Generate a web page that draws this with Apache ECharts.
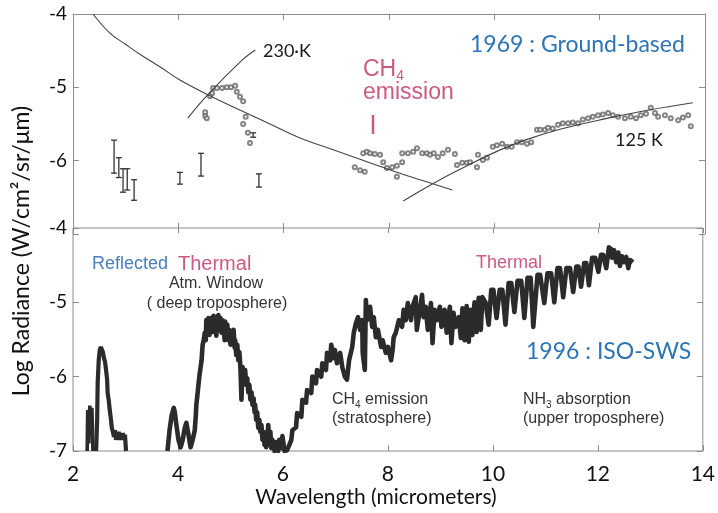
<!DOCTYPE html>
<html><head><meta charset="utf-8">
<script src="https://cdn.jsdelivr.net/npm/echarts@6/dist/echarts.min.js"></script>
<style>html,body{margin:0;padding:0;background:#fff}#c{width:718px;height:513px}</style>
</head><body><div id="c"></div>
<script>
// ---- data ----
const xTicks = [2, 4, 6, 8, 10, 12, 14];
const yTicks = [-4, -5, -6, -7];

// 1969 ground-based panel
const curveHot = [[2.38,-4.00],[2.70,-4.26],[2.99,-4.41],[3.27,-4.55],[3.65,-4.72],[4.03,-4.90],[4.56,-5.10],[5.17,-5.31],[5.74,-5.50],[6.31,-5.69],[6.94,-5.85],[7.45,-5.98],[8.04,-6.13],[8.59,-6.26],[9.20,-6.40]];
const curve230K = [[4.18,-5.42],[4.56,-5.10],[5.21,-4.63],[5.46,-4.49]];
const curve125K = [[8.27,-6.55],[9.31,-6.13],[10.58,-5.72],[12.16,-5.42],[13.77,-5.21]];
const groundPoints = [
 [4.66,-5.01],[4.73,-5.01],[4.83,-5.01],[4.92,-5.00],[5.00,-5.00],[5.08,-4.98],[5.11,-5.06],[5.17,-5.13],[5.23,-5.19],[4.64,-5.08],[4.60,-5.12],[4.51,-5.34],[4.51,-5.39],[4.54,-5.42],[5.28,-5.40],[5.23,-5.50],[5.32,-5.62],[5.36,-5.76],
 [7.51,-5.90],[7.58,-5.88],[7.64,-5.90],[7.73,-5.91],[7.83,-5.92],[7.35,-6.09],[7.45,-6.13],[7.54,-6.15],[7.89,-6.02],[7.96,-6.10],[8.06,-6.09],[8.15,-6.07],[8.15,-6.22],[8.25,-6.02],[8.25,-5.90],[8.36,-5.90],[8.46,-5.88],[8.53,-5.83],[8.63,-5.90],[8.72,-5.90],[8.78,-5.92],[8.85,-5.90],[8.93,-5.95],[9.02,-5.90],[9.12,-5.85],[9.25,-5.91],[9.29,-6.06],[9.39,-6.03],[9.48,-6.03],[9.54,-6.02],[9.67,-6.09],[9.69,-5.92],[9.78,-5.99],[9.86,-5.96],[9.97,-5.81],[10.05,-5.79],[10.15,-5.77],[10.24,-5.81],[10.33,-5.81],[10.43,-5.75],[10.52,-5.75],[10.62,-5.77],[10.70,-5.75],[10.81,-5.58],[10.87,-5.58],[10.96,-5.58],[11.02,-5.55],[11.11,-5.56],[11.21,-5.51],[11.30,-5.49],[11.40,-5.49],[11.49,-5.48],[11.59,-5.49],[11.68,-5.44],[11.78,-5.42],[11.87,-5.40],[11.97,-5.38],[12.06,-5.37],[12.16,-5.35],[12.25,-5.38],[12.35,-5.40],[12.48,-5.42],[12.59,-5.40],[12.69,-5.42],[12.78,-5.38],[12.88,-5.36],[12.97,-5.28],[13.05,-5.35],[13.11,-5.40],[13.24,-5.38],[13.35,-5.42],[13.49,-5.45],[13.58,-5.41],[13.68,-5.38],[13.73,-5.53]
];
// [wavelength, value, low, high]
const groundErrorBars = [[2.78,-5.90,-6.17,-5.72],[2.87,-6.06,-6.23,-5.96],[2.95,-6.25,-6.43,-6.11],[3.03,-6.24,-6.40,-6.11],[3.16,-6.40,-6.54,-6.26],[4.03,-6.24,-6.32,-6.16],[4.43,-6.03,-6.21,-5.90],[5.53,-6.28,-6.36,-6.18],[5.42,-5.65,-5.68,-5.62]];

// 1996 ISO-SWS panel
const isoSpike = [[2.27,-7.00],[2.28,-6.45],[2.30,-6.90],[2.32,-6.39],[2.34,-6.60],[2.36,-6.42],[2.38,-7.00]];
const isoReflected = [[2.44,-7.00],[2.46,-6.58],[2.47,-6.09],[2.49,-5.78],[2.51,-5.64],[2.53,-5.60],[2.55,-5.61],[2.57,-5.67],[2.59,-5.75],[2.61,-5.80],[2.63,-5.91],[2.65,-6.04],[2.66,-6.22],[2.68,-6.31],[2.70,-6.45],[2.72,-6.56],[2.74,-6.69],[2.76,-6.74],[2.78,-6.81],[2.80,-6.72],[2.82,-6.85],[2.84,-6.76],[2.85,-6.83],[2.87,-6.74],[2.89,-6.85],[2.91,-6.77],[2.93,-6.83],[2.95,-6.76],[2.97,-6.85],[2.99,-6.78],[3.01,-7.00]];
const isoThermal = [
 [3.80,-7.00],[3.84,-6.72],[3.88,-6.52],[3.92,-6.42],[3.94,-6.48],[3.97,-6.65],[4.01,-6.85],[4.05,-6.95],[4.09,-6.85],[4.13,-6.69],[4.16,-6.62],[4.20,-6.78],[4.24,-6.95],[4.28,-6.85],[4.32,-6.72],[4.34,-6.52],[4.35,-6.38],[4.37,-6.25],[4.39,-6.11],[4.41,-5.98],[4.43,-5.88],[4.45,-5.78],[4.47,-5.57],[4.49,-5.51],[4.51,-5.41],[4.53,-5.51],[4.54,-5.24],[4.56,-5.37],[4.58,-5.21],[4.60,-5.44],[4.62,-5.26],[4.64,-5.21],[4.66,-5.40],[4.68,-5.18],[4.70,-5.30],[4.72,-5.21],[4.73,-5.45],[4.75,-5.26],[4.77,-5.17],[4.79,-5.37],[4.81,-5.21],[4.83,-5.41],[4.85,-5.24],[4.87,-5.35],[4.89,-5.51],[4.90,-5.26],[4.92,-5.45],[4.94,-5.30],[4.96,-5.51],[4.98,-5.37],[5.00,-5.57],[5.02,-5.41],[5.04,-5.53],[5.06,-5.37],[5.08,-5.61],[5.09,-5.51],[5.11,-5.71],[5.13,-5.57],[5.15,-5.78],[5.17,-5.67],[5.19,-5.88],[5.21,-6.31],[5.23,-5.87],[5.25,-5.94],[5.27,-6.04],[5.28,-5.91],[5.30,-6.11],[5.32,-6.02],[5.34,-6.21],[5.36,-6.11],[5.38,-6.31],[5.40,-6.21],[5.42,-6.38],[5.44,-6.29],[5.46,-6.48],[5.47,-6.38],[5.49,-6.58],[5.51,-6.48],[5.53,-6.69],[5.55,-6.58],[5.57,-6.74],[5.59,-6.65],[5.61,-6.85],[5.63,-6.74],[5.65,-6.92],[5.66,-6.81],[5.68,-6.95],[5.70,-6.85],[5.72,-6.65],[5.74,-6.92],[5.76,-6.74],[5.78,-6.96],[5.80,-6.85],[5.84,-7.00],[5.87,-6.88],[5.91,-7.00],[5.93,-6.85],[5.97,-6.96],[5.99,-6.80],[6.03,-7.00],[6.06,-7.00],
 [6.08,-6.99],[6.16,-6.85],[6.18,-6.72],[6.25,-6.68],[6.27,-6.49],[6.35,-6.54],[6.37,-6.31],[6.44,-6.35],[6.46,-6.18],[6.54,-6.22],[6.56,-6.00],[6.63,-6.09],[6.65,-5.91],[6.73,-6.00],[6.75,-5.82],[6.82,-5.91],[6.84,-5.68],[6.90,-5.78],[6.92,-5.57],[6.96,-5.75],[6.99,-5.64],[7.03,-5.82],[7.09,-5.68],[7.13,-5.87],[7.18,-6.00],[7.22,-6.04],[7.26,-5.78],[7.32,-5.60],[7.35,-5.41],[7.39,-5.28],[7.43,-5.20],[7.47,-5.37],[7.51,-5.24],[7.52,-5.68],[7.56,-5.91],[7.58,-4.97],[7.60,-5.24],[7.66,-5.06],[7.70,-5.33],[7.73,-5.20],[7.77,-5.47],[7.81,-5.37],[7.87,-5.60],[7.90,-5.51],[7.96,-5.68],[8.00,-5.60],[8.06,-5.78],[8.09,-5.64],[8.11,-5.47],[8.15,-5.41],[8.21,-5.24],[8.27,-5.33],[8.30,-5.10],[8.34,-5.24],[8.38,-5.01],[8.44,-5.24],[8.47,-5.06],[8.53,-4.93],[8.55,-5.37],[8.61,-5.10],[8.65,-4.90],[8.68,-5.20],[8.72,-5.06],[8.76,-5.37],[8.82,-5.01],[8.85,-5.55],[8.89,-5.10],[8.93,-5.24],[8.99,-5.06],[9.02,-5.33],[9.08,-5.10],[9.12,-5.41],[9.18,-5.06],[9.21,-5.55],[9.25,-5.14],[9.29,-5.33],[9.35,-5.20],[9.39,-5.48],[9.42,-5.08],[9.46,-5.51],[9.50,-5.05],[9.54,-5.53],[9.58,-5.10],[9.61,-5.44],[9.65,-5.00],[9.69,-5.40],[9.73,-4.94],[9.77,-5.37],[9.80,-4.93],
 [9.86,-5.00],[9.92,-5.30],[9.97,-4.83],[10.01,-4.83],[10.07,-5.21],[10.13,-4.83],[10.18,-4.83],[10.24,-5.30],[10.30,-4.74],[10.35,-4.74],[10.41,-5.13],[10.47,-4.71],[10.54,-4.71],[10.60,-5.21],[10.66,-4.67],[10.72,-4.67],[10.77,-5.33],[10.85,-4.63],[10.90,-4.63],[10.98,-5.01],[11.04,-4.61],[11.11,-4.61],[11.17,-5.00],[11.23,-4.54],[11.28,-4.54],[11.34,-4.93],[11.40,-4.54],[11.47,-4.54],[11.53,-4.86],[11.59,-4.52],[11.63,-4.52],[11.68,-4.79],[11.74,-4.47],[11.78,-4.47],[11.83,-4.77],[11.89,-4.40],[11.95,-4.40],[12.01,-4.59],[12.06,-4.36],[12.10,-4.36],[12.16,-4.54],[12.21,-4.26],[12.25,-4.28],[12.27,-4.40],[12.31,-4.30],[12.35,-4.46],[12.39,-4.33],[12.42,-4.51],[12.46,-4.38],[12.50,-4.46],[12.54,-4.39],[12.58,-4.54],[12.61,-4.43],[12.67,-4.46]
];

// ---- chart ----
const FRAME = '#8c8c8c';
const INK = '#2b2b2b';
const PINK = '#cc5a7f';
const BLUE = '#2e75b6';
const chart = echarts.init(document.getElementById('c'), null, {renderer: 'canvas'});

function xAx(grid, pos, opts) {
  return Object.assign({
    type: 'value', gridIndex: grid, position: pos, min: xTicks[0], max: xTicks[xTicks.length - 1], interval: 2,
    axisLine: {show: false}, splitLine: {show: false},
    axisTick: {show: true, inside: true, length: 6, lineStyle: {color: FRAME}},
    axisLabel: {show: false}
  }, opts || {});
}
function yAx(grid, pos, opts) {
  return Object.assign({
    type: 'value', gridIndex: grid, position: pos, min: yTicks[yTicks.length - 1], max: yTicks[0], interval: 1,
    axisLine: {show: false}, splitLine: {show: false},
    axisTick: {show: true, inside: true, length: 6, lineStyle: {color: FRAME}},
    axisLabel: {show: false}
  }, opts || {});
}
const tickFont = {fontFamily: 'Lato', color: '#111'};

const option = {
  animation: false,
  backgroundColor: '#fff',
  grid: [
    {left: 73, top: 14, width: 632, height: 220, show: false},
    {left: 73, top: 228, width: 632, height: 223, show: true, borderColor: FRAME, borderWidth: 1, backgroundColor: 'rgba(0,0,0,0)'}
  ],
  xAxis: [
    xAx(0, 'top', {axisLine: {show: true, lineStyle: {color: FRAME}}}),
    xAx(0, 'bottom', {offset: -6, axisTick: {show: true, inside: true, length: 5, lineStyle: {color: FRAME}}}),
    xAx(1, 'bottom', {axisLabel: Object.assign({show: true, fontSize: 21, margin: 13}, tickFont)}),
    xAx(1, 'top', {axisTick: {show: true, inside: true, length: 5, lineStyle: {color: FRAME}}})
  ],
  yAxis: [
    yAx(0, 'left', {axisLine: {show: true, lineStyle: {color: FRAME}},
      axisLabel: Object.assign({show: true, fontSize: 19, margin: 6, formatter: v => (v === yTicks[yTicks.length - 1] ? '' : String(v))}, tickFont)}),
    yAx(0, 'right', {axisLine: {show: true, lineStyle: {color: FRAME}}}),
    yAx(1, 'left', {axisLabel: Object.assign({show: true, fontSize: 19, margin: 6}, tickFont)}),
    yAx(1, 'right', {})
  ],
  series: [
    {type: 'line', name: 'hot', xAxisIndex: 0, yAxisIndex: 0, data: curveHot, smooth: 0.4, showSymbol: false, lineStyle: {color: '#444', width: 1.1}},
    {type: 'line', name: '230 K', xAxisIndex: 0, yAxisIndex: 0, data: curve230K, smooth: 0.4, showSymbol: false, lineStyle: {color: '#444', width: 1.1}},
    {type: 'line', name: '125 K', xAxisIndex: 0, yAxisIndex: 0, data: curve125K, smooth: 0.4, showSymbol: false, lineStyle: {color: '#444', width: 1.1}},
    {type: 'scatter', name: 'obs', xAxisIndex: 0, yAxisIndex: 0, data: groundPoints, symbol: 'emptyCircle', symbolSize: 4,
      itemStyle: {color: '#666', borderColor: '#666', borderWidth: 0.8}},
    {type: 'custom', name: 'err', xAxisIndex: 0, yAxisIndex: 0, data: groundErrorBars, encode: {x: 0, y: 1},
      renderItem: function (params, api) {
        const x = api.value(0);
        const lo = api.coord([x, api.value(2)]);
        const hi = api.coord([x, api.value(3)]);
        const w = 3;
        const st = {stroke: '#333', lineWidth: 1.3};
        return {type: 'group', children: [
          {type: 'line', shape: {x1: lo[0], y1: lo[1], x2: hi[0], y2: hi[1]}, style: st},
          {type: 'line', shape: {x1: lo[0] - w, y1: lo[1], x2: lo[0] + w, y2: lo[1]}, style: st},
          {type: 'line', shape: {x1: hi[0] - w, y1: hi[1], x2: hi[0] + w, y2: hi[1]}, style: st}
        ]};
      }},
    {type: 'line', name: 'iso1', xAxisIndex: 2, yAxisIndex: 2, data: isoSpike, showSymbol: false, lineStyle: {color: INK, width: 3.6}},
    {type: 'line', name: 'iso2', xAxisIndex: 2, yAxisIndex: 2, data: isoReflected, showSymbol: false, lineStyle: {color: INK, width: 4.2}},
    {type: 'line', name: 'iso3', xAxisIndex: 2, yAxisIndex: 2, data: isoThermal, showSymbol: false, lineStyle: {color: INK, width: 4.6, join: 'round'}}
  ],
  graphic: [
    {type: 'text', x: 22, y: 251, rotation: Math.PI / 2,
      style: {text: 'Log Radiance (W/cm²/sr/μm)', fontFamily: 'Lato', fontSize: 23, fill: '#111', align: 'center', verticalAlign: 'middle', textAlign: 'center', textVerticalAlign: 'middle'}},
    {type: 'text', x: 376, y: 497,
      style: {text: 'Wavelength (micrometers)', fontFamily: 'Lato', fontSize: 21, fill: '#111', align: 'center', verticalAlign: 'middle', textAlign: 'center', textVerticalAlign: 'middle'}},
    {type: 'text', x: 263, y: 51, style: {text: '230·K', fontFamily: 'Lato', fontSize: 18, fill: '#1a1a1a', align: 'left', verticalAlign: 'middle', textVerticalAlign: 'middle'}},
    {type: 'text', x: 615, y: 140, style: {text: '125 K', fontFamily: 'Lato', fontSize: 18, fill: '#1a1a1a', align: 'left', verticalAlign: 'middle', textVerticalAlign: 'middle'}},
    {type: 'text', x: 470, y: 45, style: {text: '1969 : Ground-based', fontFamily: 'Lato', fontSize: 23, fill: BLUE, align: 'left', verticalAlign: 'middle', textVerticalAlign: 'middle'}},
    {type: 'text', x: 526, y: 352, style: {text: '1996 : ISO-SWS', fontFamily: 'Lato', fontSize: 23, fill: BLUE, align: 'left', verticalAlign: 'middle', textVerticalAlign: 'middle'}},
    {type: 'text', x: 363, y: 70, style: {text: '{n|CH}{s|4}', verticalAlign: 'middle', textVerticalAlign: 'middle',
      rich: {n: {fontFamily: 'Liberation Sans', fontSize: 23, fill: PINK, lineHeight: 26}, s: {fontFamily: 'Liberation Sans', fontSize: 14, fill: PINK, lineHeight: 14, verticalAlign: 'bottom'}}}},
    {type: 'text', x: 363, y: 93, style: {text: 'emission', fontFamily: 'Liberation Sans', fontSize: 23, fill: PINK, align: 'left', verticalAlign: 'middle', textVerticalAlign: 'middle'}},
    {type: 'text', x: 373, y: 127, style: {text: 'I', fontFamily: 'Liberation Sans', fontSize: 27, fill: PINK, align: 'center', verticalAlign: 'middle', textAlign: 'center', textVerticalAlign: 'middle'}},
    {type: 'text', x: 92, y: 264, style: {text: 'Reflected', fontFamily: 'Liberation Sans', fontSize: 18, fill: '#4a7ebf', align: 'left', verticalAlign: 'middle', textVerticalAlign: 'middle'}},
    {type: 'text', x: 178, y: 264, style: {text: 'Thermal', fontFamily: 'Liberation Sans', fontSize: 20, fill: PINK, align: 'left', verticalAlign: 'middle', textVerticalAlign: 'middle'}},
    {type: 'text', x: 476, y: 263, style: {text: 'Thermal', fontFamily: 'Liberation Sans', fontSize: 18, fill: PINK, align: 'left', verticalAlign: 'middle', textVerticalAlign: 'middle'}},
    {type: 'text', x: 216, y: 284, style: {text: 'Atm. Window', fontFamily: 'Liberation Sans', fontSize: 16, fill: '#333', align: 'center', textAlign: 'center', verticalAlign: 'middle', textVerticalAlign: 'middle'}},
    {type: 'text', x: 217, y: 304, style: {text: '( deep troposphere)', fontFamily: 'Liberation Sans', fontSize: 16, fill: '#333', align: 'center', textAlign: 'center', verticalAlign: 'middle', textVerticalAlign: 'middle'}},
    {type: 'text', x: 332, y: 400, style: {text: '{n|CH}{s|4}{n| emission}', verticalAlign: 'middle', textVerticalAlign: 'middle',
      rich: {n: {fontFamily: 'Liberation Sans', fontSize: 16, fill: '#333', lineHeight: 20}, s: {fontFamily: 'Liberation Sans', fontSize: 10, fill: '#333', lineHeight: 10, verticalAlign: 'bottom'}}}},
    {type: 'text', x: 332, y: 419, style: {text: '(stratosphere)', fontFamily: 'Liberation Sans', fontSize: 16, fill: '#333', align: 'left', verticalAlign: 'middle', textVerticalAlign: 'middle'}},
    {type: 'text', x: 523, y: 400, style: {text: '{n|NH}{s|3}{n| absorption}', verticalAlign: 'middle', textVerticalAlign: 'middle',
      rich: {n: {fontFamily: 'Liberation Sans', fontSize: 16, fill: '#333', lineHeight: 20}, s: {fontFamily: 'Liberation Sans', fontSize: 10, fill: '#333', lineHeight: 10, verticalAlign: 'bottom'}}}},
    {type: 'text', x: 523, y: 419, style: {text: '(upper troposphere)', fontFamily: 'Liberation Sans', fontSize: 16, fill: '#333', align: 'left', verticalAlign: 'middle', textVerticalAlign: 'middle'}}
  ]
};
chart.setOption(option);
</script>
</body></html>
